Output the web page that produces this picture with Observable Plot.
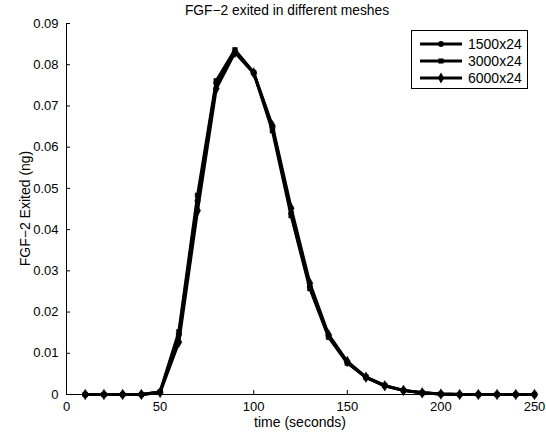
<!DOCTYPE html>
<html>
<head>
<meta charset="utf-8">
<script src="https://cdn.jsdelivr.net/npm/d3@7"></script>
<script src="https://cdn.jsdelivr.net/npm/@observablehq/plot@0.6"></script>
<style>
  html, body { margin: 0; padding: 0; background: #fff; }
  svg { display: block; }
</style>
</head>
<body>
<div id="chart"></div>
<script>
const times = [10,20,30,40,50,60,70,80,90,100,110,120,130,140,150,160,170,180,190,200,210,220,230,240,250];
const mesh1500 = [0,0,0,0,0.0006,0.0145,0.0470,0.0755,0.0830,0.0780,0.0648,0.0440,0.0262,0.0142,0.0078,0.0041,0.0021,0.0010,0.0004,0.0001,0,0,0,0,0];
const mesh3000 = [0,0,0,0,0.0006,0.0152,0.0483,0.0761,0.0836,0.0781,0.0640,0.0434,0.0257,0.0139,0.0076,0.0042,0.0022,0.0010,0.0004,0.0001,0,0,0,0,0];
const mesh6000 = [0,0,0,0,0.0005,0.0127,0.0446,0.0742,0.0830,0.0780,0.0652,0.0452,0.0270,0.0145,0.0080,0.0042,0.0021,0.0010,0.0004,0.0001,0,0,0,0,0];
const seriesNames = ["1500x24", "3000x24", "6000x24"];
const seriesSymbols = ["circle", "square", "diamond"];
const xTicks = [0, 50, 100, 150, 200, 250];
const yTicks = [0, 0.01, 0.02, 0.03, 0.04, 0.05, 0.06, 0.07, 0.08, 0.09];
const titleText = "FGF−2 exited in different meshes";
const xLabel = "time (seconds)";
const yLabel = "FGF−2 Exited (ng)";

const allSeries = [mesh1500, mesh3000, mesh6000];
const rows = [];
allSeries.forEach((vals, i) => {
  vals.forEach((v, j) => rows.push({t: times[j], v, s: seriesNames[i], sym: seriesSymbols[i]}));
});

const W = 546, H = 436;
const mL = 66, mR = 12, mT = 23, mB = 42;
const font = "'Liberation Sans', Arial, Helvetica, sans-serif";

const marks = [
  Plot.ruleY([0], {stroke: "black", strokeWidth: 1}),
  Plot.ruleX([0], {stroke: "black", strokeWidth: 1}),
  Plot.axisX(xTicks, {tickSize: -4, text: null, stroke: "#000"}),
  Plot.axisX(xTicks, {tickSize: 0, tickPadding: 7, fontSize: 13, fill: "#000", label: null}),
  Plot.axisY(yTicks, {tickSize: -4, text: null, stroke: "#000"}),
  Plot.axisY(yTicks, {tickSize: 0, tickPadding: 8, fontSize: 13, fill: "#000", label: null,
    tickFormat: d => d === 0 ? "0" : d.toFixed(2)})
];
seriesNames.forEach((name, i) => {
  const data = rows.filter(r => r.s === name);
  marks.push(Plot.line(data, {x: "t", y: "v", stroke: "black", strokeWidth: 3}));
  marks.push(Plot.dot(data, {x: "t", y: "v", symbol: seriesSymbols[i], fill: "black", stroke: "black",
    strokeWidth: 0.5, r: seriesSymbols[i] === "diamond" ? 3.2 : 2.7}));
});

const chart = Plot.plot({
  width: W, height: H,
  marginLeft: mL, marginRight: mR, marginTop: mT, marginBottom: mB,
  style: {fontFamily: font, fontSize: "13px", background: "#fff", color: "#000"},
  x: {domain: [0, 250], label: null},
  y: {domain: [0, 0.09], label: null},
  symbol: {domain: seriesSymbols, range: seriesSymbols},
  marks
});

const svg = d3.select(chart);
// title
svg.append("text")
  .attr("x", 287).attr("y", 15)
  .attr("text-anchor", "middle").attr("font-size", 13.8).attr("font-family", font)
  .attr("fill", "#000").text(titleText);
// x label
svg.append("text")
  .attr("x", mL + (W - mL - mR) / 2).attr("y", 427)
  .attr("text-anchor", "middle").attr("font-size", 14).attr("font-family", font)
  .attr("fill", "#000").text(xLabel);
// y label
svg.append("text")
  .attr("transform", `translate(30,${mT + (H - mT - mB) / 2}) rotate(-90)`)
  .attr("text-anchor", "middle").attr("font-size", 14).attr("font-family", font)
  .attr("fill", "#000").text(yLabel);

// legend
const lg = svg.append("g").attr("transform", "translate(411,30)");
lg.append("rect").attr("x", 0.5).attr("y", 0.5).attr("width", 116).attr("height", 58)
  .attr("fill", "#fff").attr("stroke", "#000").attr("stroke-width", 1);
seriesNames.forEach((name, i) => {
  const yy = 14 + i * 17;
  lg.append("line").attr("x1", 9).attr("x2", 51).attr("y1", yy).attr("y2", yy)
    .attr("stroke", "#000").attr("stroke-width", 3);
  const sym = {circle: d3.symbolCircle, square: d3.symbolSquare, diamond: d3.symbolDiamond}[seriesSymbols[i]];
  lg.append("path").attr("transform", `translate(30,${yy})`)
    .attr("d", d3.symbol(sym, seriesSymbols[i] === "diamond" ? 34 : 26)())
    .attr("fill", "#000");
  lg.append("text").attr("x", 57).attr("y", yy + 5).attr("text-anchor", "start")
    .attr("font-size", 14).attr("font-family", font).attr("fill", "#000").text(name);
});

document.getElementById("chart").appendChild(chart);
</script>
</body>
</html>
